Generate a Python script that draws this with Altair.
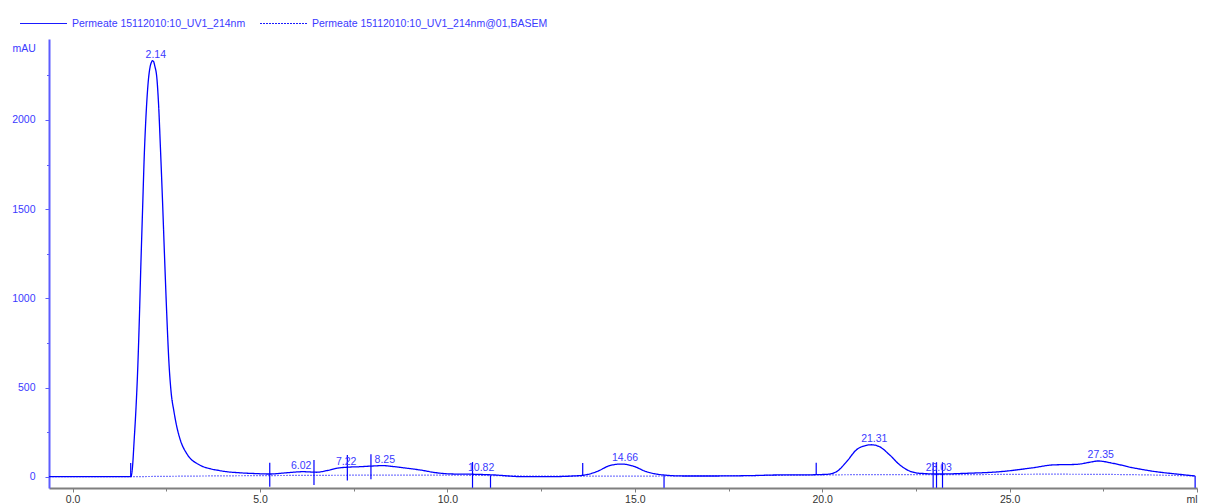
import altair as alt
import pandas as pd

SERIES_MAIN = "Permeate 15112010:10_UV1_214nm"
SERIES_BASE = "Permeate 15112010:10_UV1_214nm@01,BASEM"

# main UV trace (ml, mAU)
main_x = [-0.63, 1.50, 1.555, 1.60, 1.64, 1.69, 1.74, 1.78, 1.82, 1.87, 1.91, 1.96, 2.02, 2.07,
          2.10, 2.13, 2.16, 2.19, 2.25, 2.30, 2.34, 2.40, 2.45, 2.51, 2.57, 2.63, 2.70, 2.77,
          2.86, 3.04, 3.15, 3.31, 3.50, 3.66, 3.90, 4.11, 4.45, 4.82, 5.26, 5.71, 6.15, 6.51,
          6.78, 7.04, 7.31, 7.66, 8.02, 8.28, 8.55, 8.82, 9.26, 9.71, 10.15, 10.60, 11.22,
          12.02, 12.73, 13.35, 13.62, 13.98, 14.33, 14.64, 14.95, 15.31, 15.75, 16.29, 17.18,
          18.07, 18.95, 19.40, 20.11, 20.38, 20.65, 20.91, 21.18, 21.31, 21.53, 21.80, 22.07,
          22.33, 22.60, 23.13, 23.85, 24.74, 25.62, 26.16, 26.78, 27.14, 27.36, 27.76, 28.29,
          28.91, 29.54, 29.95]
main_y = [0, 0, 0, 60, 197, 380, 620, 880, 1180, 1520, 1790, 2030, 2220, 2300,
          2322, 2332, 2328, 2305, 2230, 2060, 1860, 1540, 1250, 920, 640, 470, 370, 290,
          215, 131, 100, 75, 55, 45, 35, 28, 22, 18, 15, 22, 28, 25,
          34, 47, 53, 56, 60, 62, 57, 50, 38, 22, 15, 14, 10,
          0, 0, 4, 8, 28, 62, 71, 60, 28, 10, 4, 4,
          6, 10, 10, 13, 28, 84, 150, 176, 179, 168, 122, 66,
          32, 19, 15, 19, 28, 50, 66, 69, 81, 88, 75, 50,
          28, 13, 4]

# baseline trace
base_x = [-0.63, 1.55, 2.0, 3.0, 5.0, 7.0, 9.0, 10.5, 12.0, 14.0, 16.0, 18.0, 20.0, 22.0,
          24.0, 26.0, 28.0, 29.95]
base_y = [0, 0, 1, 3, 6, 8, 9, 8, 4, 3, 4, 6, 10, 12, 12, 14, 12, 4]

# fraction / integration markers
frac_x = [1.55, 5.26, 6.44, 7.33, 7.96, 10.67, 11.15, 13.61, 15.78, 19.84, 22.96, 23.05, 23.21, 29.95]
frac_top = [77, 78, 94, 122, 126, 82, 6, 77, 6, 78, 81, 81, 81, 4]
frac_bottom = [0, -56, -47, -22, -15, -62, -62, 4, -62, 10, -62, -62, -62, -62]

# peak labels
peak_x = [2.14, 6.02, 7.22, 8.25, 10.82, 14.66, 21.31, 23.03, 27.35]
peak_y = [2332, 25, 50, 60, 13, 71, 179, 15, 88]
peak_text = ["2.14", "6.02", "7.22", "8.25", "10.82", "14.66", "21.31", "23.03", "27.35"]

x_ticks = [v * 2.5 for v in range(13)]
y_ticks = [v * 250 for v in range(10)]

FONT = "Liberation Sans"
BLUE_TXT = "#3a3aff"
LEGEND_BLUE = "#1a1aff"

main_df = pd.DataFrame({"x": main_x, "y": main_y, "series": [SERIES_MAIN] * len(main_x)})
base_df = pd.DataFrame({"x": base_x, "y": base_y, "series": [SERIES_BASE] * len(base_x)})
frac = pd.DataFrame({"x": frac_x, "top": frac_top, "bottom": frac_bottom})
peaks = pd.DataFrame({"x": peak_x, "y": peak_y, "label": peak_text})

xscale = alt.Scale(domain=[-0.63, 30.0], nice=False, zero=False)
yscale = alt.Scale(domain=[-63.4, 2454], nice=False, zero=False)

x_axis = alt.Axis(
    values=x_ticks,
    labelExpr="datum.value == 30 ? 'ml' : (datum.value % 5 == 0 ? format(datum.value, '.1f') : '')",
    title=None, grid=False, domainColor="#7f7f7f", domainWidth=2,
    tickColor="#7f7f7f", tickWidth=1,
    tickSize={"condition": {"test": "datum.value % 5 == 0", "value": 4}, "value": 3},
    labelColor="#333333", labelFont=FONT, labelFontSize=10.5, labelPadding=2,
    labelOverlap=False, labelFlush=True,
)
y_axis = alt.Axis(
    values=y_ticks,
    labelExpr="datum.value % 500 == 0 ? format(datum.value, 'd') : ''",
    title="mAU", titleAngle=0, titleAlign="left", titleBaseline="middle",
    titleX=-37, titleY=9, titleFont=FONT, titleFontSize=10.5, titleFontWeight="normal",
    titleColor=BLUE_TXT,
    grid=False, domainColor="#5c5cff", domainWidth=2, tickColor="#5c5cff",
    tickSize={"condition": {"test": "datum.value % 500 == 0", "value": 4}, "value": 2.5},
    labelColor=BLUE_TXT, labelFont=FONT, labelFontSize=10.5, labelPadding=10,
    labelOverlap=False,
)

dash_scale = alt.Scale(domain=[SERIES_MAIN, SERIES_BASE], range=[[1, 0], [2, 1]])
legend = alt.Legend(
    title=None, orient="none", direction="horizontal", legendX=-30, legendY=-40,
    symbolType="stroke", symbolSize=2209, symbolStrokeWidth=1.2,
    symbolStrokeColor=LEGEND_BLUE,
    labelColor=BLUE_TXT, labelFont=FONT, labelFontSize=10.5, labelLimit=400,
    labelOffset=4, columnPadding=11, padding=0,
)

base_line = alt.Chart(base_df).mark_line(
    strokeWidth=1.2, stroke="#7b7bff", interpolate="monotone"
).encode(
    x=alt.X("x:Q", scale=xscale, axis=x_axis),
    y=alt.Y("y:Q", scale=yscale, axis=y_axis),
    strokeDash=alt.StrokeDash("series:N", scale=dash_scale, legend=legend),
)
main_line = alt.Chart(main_df).mark_line(
    strokeWidth=1.3, stroke="#0000ff", interpolate="monotone"
).encode(
    x=alt.X("x:Q", scale=xscale, axis=x_axis),
    y=alt.Y("y:Q", scale=yscale, axis=y_axis),
    strokeDash=alt.StrokeDash("series:N", scale=dash_scale, legend=legend),
)
markers = alt.Chart(frac).mark_rule(color="#0000ff", strokeWidth=1.2).encode(
    x=alt.X("x:Q", scale=xscale),
    y=alt.Y("top:Q", scale=yscale),
    y2="bottom:Q",
)
labels = alt.Chart(peaks).mark_text(
    color=BLUE_TXT, font=FONT, fontSize=10.5, align="center", baseline="alphabetic", dx=3, dy=-3
).encode(
    x=alt.X("x:Q", scale=xscale),
    y=alt.Y("y:Q", scale=yscale),
    text="label:N",
)

chart = alt.layer(base_line, main_line, markers, labels).properties(
    width=1148, height=449,
    autosize=alt.AutoSizeParams(type="none"),
    padding={"left": 49, "top": 39, "right": 14, "bottom": 15},
    background="white",
).configure_view(stroke=None).configure_mark(
    color=LEGEND_BLUE
).configure_legend(
    symbolStrokeColor=LEGEND_BLUE,
    symbolBaseStrokeColor=LEGEND_BLUE,
)

chart.save("out.html", embed_options={"renderer": "svg", "actions": False})
